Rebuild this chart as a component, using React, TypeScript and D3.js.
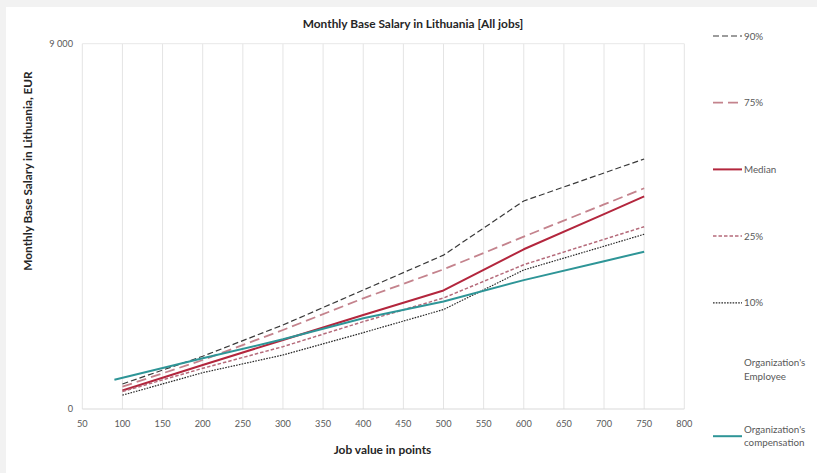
import React from "react";
import * as d3 from "d3";

const jobPoints = [100, 200, 300, 400, 500, 600, 700, 750];
const p90 = [616, 1300, 2070, 2930, 3790, 5125, 5815, 6160];
const p75 = [550, 1207, 1947, 2727, 3440, 4246, 5040, 5438];
const median = [455, 1084, 1700, 2316, 2920, 3935, 4800, 5240];
const p25 = [430, 1003, 1536, 2152, 2735, 3555, 4180, 4492];
const p10 = [340, 895, 1330, 1881, 2450, 3425, 4010, 4305];
const compPoints = [90, 200, 300, 400, 500, 600, 700, 750];
const compensation = [722, 1249, 1717, 2234, 2650, 3175, 3640, 3876];

const xTicks = [50, 100, 150, 200, 250, 300, 350, 400, 450, 500, 550, 600, 650, 700, 750, 800];
const yTicks = [0, 9000];

const title = "Monthly Base Salary in Lithuania [All jobs]";
const xTitle = "Job value in points";
const yTitle = "Monthly Base Salary in Lithuania, EUR";

type Style = { color: string; width: number; dash: string };
const series: { name: string[]; xs: number[]; ys: number[] | null; style: Style }[] = [
  { name: ["90%"], xs: jobPoints, ys: p90, style: { color: "#3a3a3a", width: 1.2, dash: "6 3" } },
  { name: ["75%"], xs: jobPoints, ys: p75, style: { color: "#c4838d", width: 1.8, dash: "10 5" } },
  { name: ["Median"], xs: jobPoints, ys: median, style: { color: "#b3263d", width: 2, dash: "" } },
  { name: ["25%"], xs: jobPoints, ys: p25, style: { color: "#b56b7b", width: 1.5, dash: "3.5 2" } },
  { name: ["10%"], xs: jobPoints, ys: p10, style: { color: "#2a2a2a", width: 1.2, dash: "1.6 1.2" } },
  { name: ["Organization's", "Employee"], xs: [], ys: null, style: { color: "none", width: 0, dash: "" } },
  { name: ["Organization's", "compensation"], xs: compPoints, ys: compensation, style: { color: "#2e9597", width: 2, dash: "" } },
];

const W = 817;
const H = 473;
const FONT = "Lato, 'Open Sans', sans-serif";

export default function App() {
  const x = d3.scaleLinear().domain([50, 800]).range([82.3, 684.3]);
  const y = d3.scaleLinear().domain([0, 9000]).range([409, 43.7]);
  const fmt = (v: number) => d3.format(",")(v).replace(/,/g, " ");

  const line = d3
    .line<[number, number]>()
    .x((d) => x(d[0]))
    .y((d) => y(d[1]));

  const legendX = 713;
  const legendY0 = 36;
  const legendStep = 66.7;

  return (
    <svg
      width={W}
      height={H}
      style={{ position: "absolute", left: 0, top: 0, fontFamily: FONT }}
    >
      <rect x={0} y={0} width={W} height={H} fill="#f2f2f2" />
      <rect x={6} y={7} width={W - 6} height={H - 7} fill="#ffffff" />

      {/* grid */}
      {xTicks.map((t) => (
        <line key={"gx" + t} x1={x(t)} x2={x(t)} y1={y(9000)} y2={y(0)} stroke="#e4e4e4" strokeWidth={1} />
      ))}
      {yTicks.map((t) => (
        <line key={"gy" + t} x1={x(50)} x2={x(800)} y1={y(t)} y2={y(t)} stroke={t === 0 ? "#d9d9d9" : "#e8e8e8"} strokeWidth={1} />
      ))}

      {/* tick labels */}
      {xTicks.map((t) => (
        <text key={"tx" + t} x={x(t)} y={426.5} textAnchor="middle" fontSize={9.2} fill="#595959">
          {t}
        </text>
      ))}
      {yTicks.map((t) => (
        <text key={"ty" + t} x={73} y={y(t) + 3.2} textAnchor="end" fontSize={9.2} fill="#595959">
          {fmt(t)}
        </text>
      ))}

      {/* series */}
      {series.map((s, i) =>
        s.ys ? (
          <path
            key={"s" + i}
            d={line(s.xs.map((v, j) => [v, s.ys![j]] as [number, number])) || ""}
            fill="none"
            stroke={s.style.color}
            strokeWidth={s.style.width}
            strokeDasharray={s.style.dash || undefined}
            strokeLinejoin="round"
          />
        ) : null
      )}

      {/* titles */}
      <text x={413} y={27.5} textAnchor="middle" fontSize={11.9} fontWeight="bold" fill="#262626">
        {title}
      </text>
      <text x={382.5} y={453.5} textAnchor="middle" fontSize={11.9} fontWeight="bold" fill="#262626">
        {xTitle}
      </text>
      <text
        transform={`translate(31.5,171) rotate(-90)`}
        textAnchor="middle"
        fontSize={11.8}
        fontWeight="bold"
        fill="#262626"
      >
        {yTitle}
      </text>

      {/* legend */}
      {series.map((s, i) => {
        const cy = legendY0 + i * legendStep;
        const lines = s.name;
        const off = lines.length > 1 ? -6.7 : 0;
        return (
          <g key={"lg" + i}>
            {s.ys ? (
              <line
                x1={legendX}
                x2={legendX + 29}
                y1={cy}
                y2={cy}
                stroke={s.style.color}
                strokeWidth={s.style.width}
                strokeDasharray={s.style.dash || undefined}
              />
            ) : null}
            {lines.map((l, k) => (
              <text key={k} x={legendX + 31} y={cy + off + k * 13.4 + 3.5} fontSize={9.8} fill="#595959">
                {l}
              </text>
            ))}
          </g>
        );
      })}
    </svg>
  );
}
